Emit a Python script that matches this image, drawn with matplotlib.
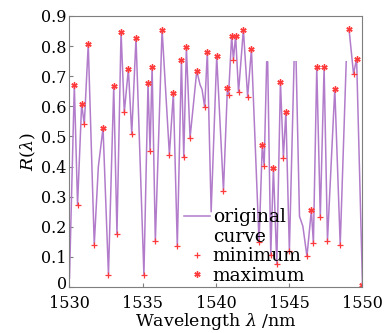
import numpy as np
import matplotlib
matplotlib.use("Agg")
import matplotlib.pyplot as plt
from matplotlib.lines import Line2D
from matplotlib.transforms import ScaledTranslation

nan = np.nan

# reflection spectrum (nan = break in the trace)
wavelength = [1530.00, 1530.33, 1530.55, 1530.83, 1531.01, 1531.28, 1531.69, 1531.97,
              1532.29, 1532.66, 1533.02, 1533.24, 1533.52, 1533.74, 1534.02, 1534.25,
              1534.54, 1535.08, 1535.36, 1535.50, 1535.64, 1535.86, 1536.32, 1536.82,
              1537.09, 1537.36, 1537.64, 1537.80, 1537.98, 1538.23, 1538.69, 1538.91,
              1539.05, 1539.23, 1539.41, 1539.67, 1540.05, 1540.51, 1540.78, 1540.86,
              1541.07, 1541.19, 1541.34, 1541.54, 1541.87, 1542.16, 1542.42, 1542.94,
              1543.16, 1543.29, 1543.46, 1543.53, 1543.74, 1543.92, 1544.15, 1544.40,
              1544.60, 1544.77, 1545.01, 1545.33, 1545.40, 1545.47, 1545.70, 1545.93,
              1546.21, 1546.51, 1546.65, 1546.88, 1547.12, 1547.38, 1547.61, 1548.11,
              1548.48, 1548.89, 1549.00, 1549.08, 1549.39, 1549.60, 1550.00]
reflect = [0.03, 0.671, 0.273, 0.609, 0.540, 0.806, 0.141, 0.40,
           0.528, 0.041, 0.667, 0.177, 0.848, 0.580, 0.724, 0.509,
           0.827, 0.041, 0.676, 0.453, 0.732, 0.152, 0.855, 0.440,
           0.644, 0.135, 0.753, 0.431, 0.796, 0.496, 0.718, 0.672,
           0.656, 0.597, 0.782, 0.25, 0.766, 0.32, 0.661, 0.639,
           0.834, 0.755, 0.834, 0.647, 0.855, 0.632, 0.790, 0.150,
           0.470, 0.403, 0.748, 0.748, 0.108, 0.396, 0.078, 0.682,
           0.429, 0.582, 0.119, 0.748, nan, 0.748, 0.235, 0.202,
           0.102, 0.255, 0.146, 0.730, 0.233, 0.731, 0.154, 0.659,
           0.140, 0.748, nan, 0.857, 0.708, 0.758, 0.008]

max_wl = [1530.33, 1530.83, 1531.28, 1532.29, 1533.02, 1533.52, 1534.02, 1534.54,
          1535.36, 1535.64, 1536.32, 1537.09, 1537.64, 1537.98, 1538.69, 1539.41,
          1540.05, 1540.78, 1541.07, 1541.34, 1541.87, 1542.42, 1543.16, 1543.92,
          1544.40, 1544.77, 1546.51, 1546.88, 1547.38, 1548.11, 1549.08, 1549.60,
          1550.00]
max_r = [0.671, 0.609, 0.806, 0.528, 0.667, 0.848, 0.724, 0.827,
         0.676, 0.732, 0.855, 0.644, 0.753, 0.796, 0.718, 0.782,
         0.766, 0.661, 0.834, 0.834, 0.855, 0.790, 0.470, 0.396,
         0.682, 0.582, 0.255, 0.730, 0.731, 0.659, 0.857, 0.758,
         0.008]

min_wl = [1530.55, 1531.01, 1531.69, 1532.66, 1533.24, 1533.74, 1534.25, 1535.08,
          1535.50, 1535.86, 1536.82, 1537.36, 1537.80, 1538.23, 1539.23, 1540.51,
          1540.86, 1541.19, 1541.54, 1542.16, 1542.94, 1543.29, 1543.74, 1544.15,
          1544.60, 1545.01, 1546.21, 1546.65, 1547.12, 1547.61, 1548.48, 1549.39]
min_r = [0.273, 0.540, 0.141, 0.041, 0.177, 0.580, 0.509, 0.041,
         0.453, 0.152, 0.440, 0.135, 0.431, 0.496, 0.597, 0.32,
         0.639, 0.755, 0.647, 0.632, 0.150, 0.403, 0.108, 0.078,
         0.429, 0.119, 0.102, 0.146, 0.233, 0.154, 0.140, 0.708]

plt.rcParams["font.family"] = "DejaVu Serif"
plt.rcParams["mathtext.fontset"] = "dejavuserif"
plt.rcParams["font.size"] = 11.5

line_c = "#b27ccb"
mark_c = "#ff3a3a"
grey = "#7f7f7f"

fig = plt.figure(figsize=(3.85, 3.33), dpi=100)
ax = fig.add_axes([0.1805, 0.138, 0.761, 0.814])

ax.plot(wavelength, reflect, color=line_c, lw=1.1)
ax.plot(min_wl, min_r, ls="none", marker="+", ms=5, mew=0.9, color=mark_c)
ax.plot(max_wl, max_r, ls="none", marker=(6, 2, 0), ms=4.5, mew=1.0, color=mark_c)

ax.set_xlim(1530, 1550)
ax.set_ylim(0, 0.9)
ax.set_xticks([1530, 1535, 1540, 1545, 1550])
ax.set_yticks(np.arange(0, 0.91, 0.1))
ax.set_yticklabels(["0", "0.1", "0.2", "0.3", "0.4", "0.5", "0.6", "0.7", "0.8", "0.9"])
ax.tick_params(direction="in", length=3, color=grey, pad=2)
ax.tick_params(axis="x", pad=6)
for s in ax.spines.values():
    s.set_color(grey)
    s.set_linewidth(0.8)

# nudge the "0" up a little so it clears "1530", as in the original
zero = ax.yaxis.get_major_ticks()[0].label1
zero.set_transform(zero.get_transform() + ScaledTranslation(0, 3 / 72, fig.dpi_scale_trans))

ax.set_xlabel(r"Wavelength $\lambda$ /nm", labelpad=-1, fontsize=12.5)
ax.set_ylabel(r"$R(\lambda)$", labelpad=2, fontsize=12.5)

handles = [Line2D([], [], color=line_c, lw=1.1),
           Line2D([], [], ls="none"),
           Line2D([], [], ls="none", marker="+", ms=5, mew=0.9, color=mark_c),
           Line2D([], [], ls="none", marker=(6, 2, 0), ms=4.5, mew=1.0, color=mark_c)]
ax.legend(handles, ["original", "curve", "minimum", "maximum"],
          loc="lower left", bbox_to_anchor=(0.345, -0.04), frameon=False,
          handlelength=1.4, handletextpad=0.15, labelspacing=0.08,
          borderpad=0.2, fontsize=13.5)

fig.savefig("out.png", dpi=100)
